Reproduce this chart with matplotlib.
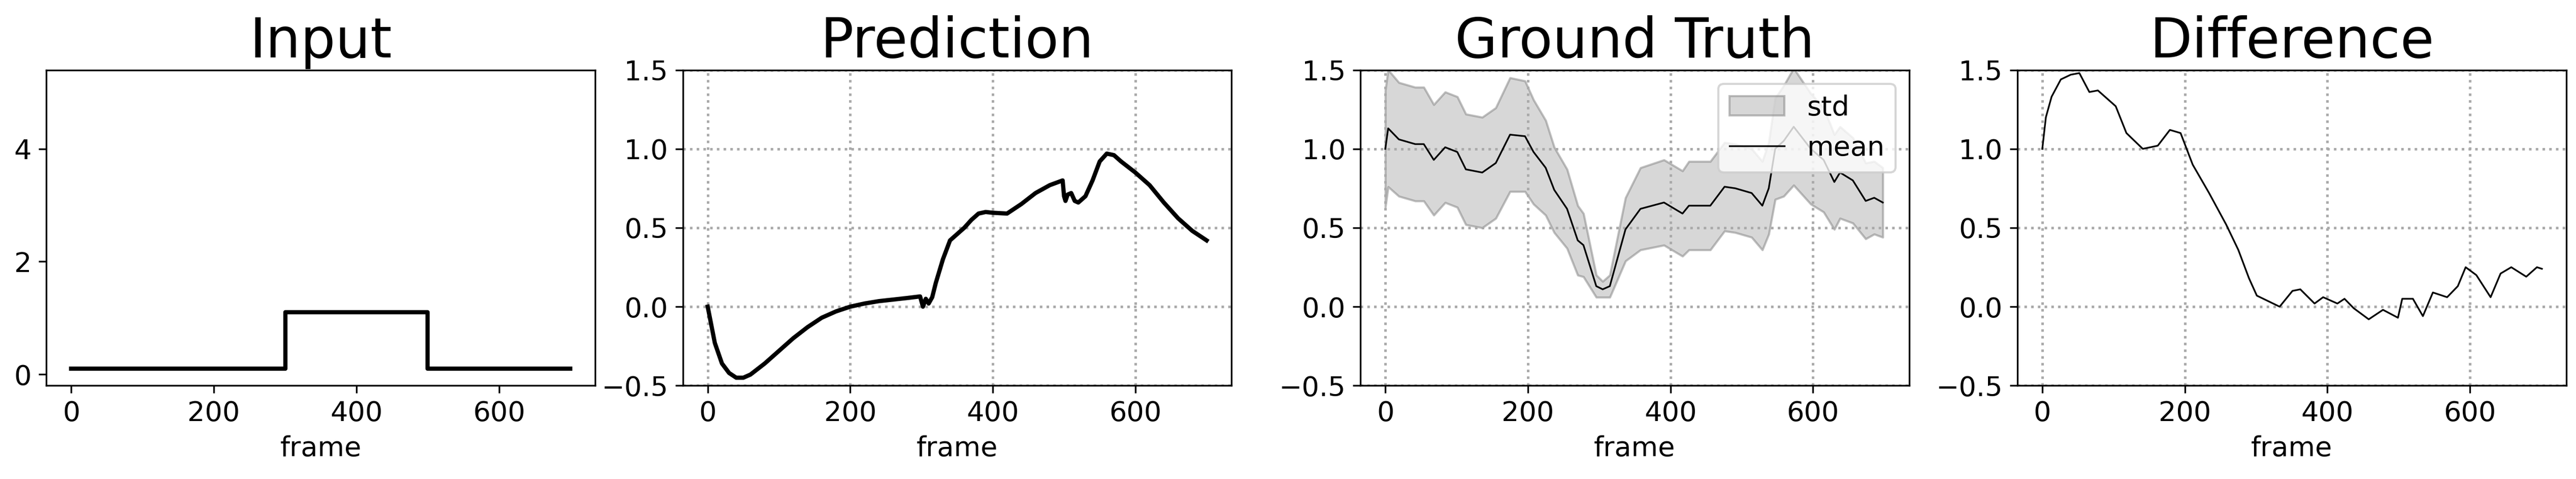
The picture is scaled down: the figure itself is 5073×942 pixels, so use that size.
import matplotlib
matplotlib.use("Agg")
import matplotlib.pyplot as plt
import numpy as np

# Input
inp_frames = [0, 300, 300, 500, 500, 700]
inp_vals = [0.1, 0.1, 1.1, 1.1, 0.1, 0.1]

# Prediction
pred_frames = [0, 10, 20, 30, 40, 50, 60, 80, 100, 120, 140, 160, 180, 200, 220, 240, 260, 280, 298,
               302, 306, 310, 315, 320, 330, 340, 350, 360, 370, 380, 390, 400, 420, 440, 460, 480, 498,
               500, 502, 505, 510, 515, 520, 530, 540, 550, 560, 570, 580, 600, 620, 640, 660, 680, 700]
pred_vals = [0.0, -0.23, -0.36, -0.42, -0.45, -0.45, -0.43, -0.36, -0.28, -0.2, -0.13, -0.07, -0.03, 0.0,
             0.02, 0.035, 0.045, 0.055, 0.065, 0.0, 0.05, 0.02, 0.06, 0.15, 0.3, 0.42, 0.46, 0.5, 0.55,
             0.59, 0.6, 0.595, 0.59, 0.65, 0.72, 0.77, 0.8, 0.7, 0.67, 0.71, 0.72, 0.67, 0.66, 0.7, 0.8,
             0.92, 0.97, 0.96, 0.92, 0.85, 0.77, 0.66, 0.56, 0.48, 0.42]

# Ground truth mean / std
gt_frames = [0, 4, 19, 42, 54, 68, 84, 101, 113, 136, 155, 175, 196, 208, 225, 237, 255, 270, 278, 296,
             305, 315, 337, 358, 391, 417, 426, 456, 476, 491, 514, 529, 538, 547, 559, 573, 597, 615,
             630, 638, 656, 674, 686, 698]
gt_mean = [1.0, 1.13, 1.06, 1.03, 1.03, 0.93, 1.01, 0.98, 0.87, 0.85, 0.91, 1.09, 1.08, 0.98, 0.88, 0.74,
           0.62, 0.42, 0.39, 0.13, 0.11, 0.13, 0.49, 0.62, 0.66, 0.59, 0.64, 0.64, 0.76, 0.75, 0.72, 0.64,
           0.75, 1.0, 1.05, 1.14, 1.0, 0.93, 0.79, 0.85, 0.80, 0.67, 0.69, 0.66]
gt_std = [0.37, 0.37, 0.36, 0.36, 0.36, 0.35, 0.35, 0.35, 0.35, 0.35, 0.35, 0.36, 0.35, 0.33, 0.3, 0.27,
          0.25, 0.22, 0.2, 0.07, 0.05, 0.07, 0.2, 0.26, 0.27, 0.27, 0.28, 0.28, 0.28, 0.28, 0.28, 0.28,
          0.29, 0.32, 0.35, 0.37, 0.35, 0.33, 0.3, 0.29, 0.27, 0.24, 0.23, 0.22]

# Difference
diff_frames = [0, 5, 13, 26, 40, 52, 66, 78, 103, 118, 141, 162, 179, 194, 211, 234, 258, 275, 290, 301,
               333, 351, 362, 382, 394, 414, 424, 437, 458, 478, 499, 505, 520, 534, 548, 568, 583, 594,
               609, 629, 643, 658, 679, 694, 701]
diff_vals = [1.0, 1.2, 1.33, 1.44, 1.47, 1.48, 1.36, 1.37, 1.27, 1.1, 1.0, 1.02, 1.12, 1.1, 0.9, 0.72,
             0.52, 0.36, 0.18, 0.07, 0.0, 0.1, 0.11, 0.02, 0.06, 0.02, 0.05, -0.01, -0.08, -0.02, -0.07,
             0.05, 0.05, -0.06, 0.09, 0.06, 0.13, 0.25, 0.2, 0.06, 0.21, 0.25, 0.19, 0.25, 0.24]

plt.rcParams['font.size'] = 13
fig = plt.figure(figsize=(16.913, 3.14), dpi=300)
lefts = [0.018, 0.265, 0.528, 0.783]
width = 0.213
axes = [fig.add_axes([l, 0.195, width, 0.659]) for l in lefts]
titles = ["Input", "Prediction", "Ground Truth", "Difference"]

ax = axes[0]
ax.plot(inp_frames, inp_vals, color='black', lw=2)
ax.set_ylim(-0.2, 5.4)
ax.set_yticks([0, 2, 4])

ax = axes[1]
ax.plot(pred_frames, pred_vals, color='black', lw=2)

ax = axes[2]
m = np.array(gt_mean); s = np.array(gt_std)
ax.fill_between(gt_frames, m - s, m + s, color='#b0b0b0', alpha=0.5, edgecolor='gray', lw=1, label='std')
ax.plot(gt_frames, gt_mean, color='black', lw=0.8, label='mean')
ax.legend(loc='upper right', fontsize=13)

ax = axes[3]
ax.plot(diff_frames, diff_vals, color='black', lw=0.8)

for i, ax in enumerate(axes):
    ax.set_title(titles[i], fontsize=26)
    ax.set_xlabel("frame")
    ax.set_xticks([0, 200, 400, 600])
    ax.set_xlim(-35, 735)
    if i > 0:
        ax.set_ylim(-0.5, 1.5)
        ax.set_yticks([-0.5, 0.0, 0.5, 1.0, 1.5])
        ax.grid(True, linestyle=':', color='#aaaaaa', lw=1.2)

fig.savefig("out.png", dpi=300)
